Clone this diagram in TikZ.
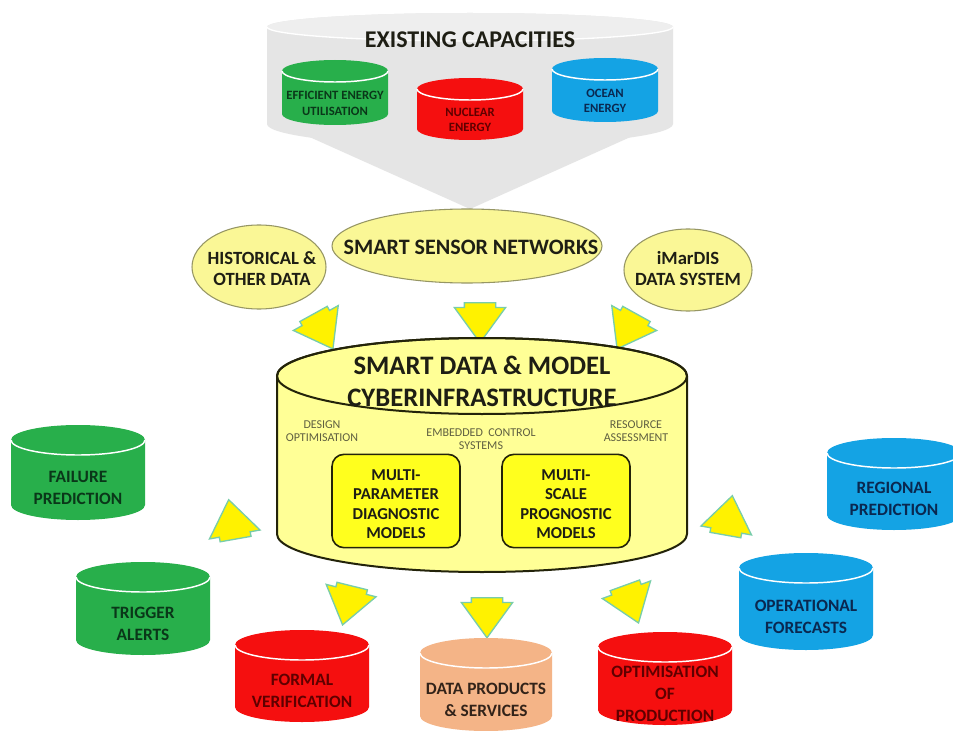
\documentclass[tikz,border=0pt]{standalone}
\usepackage{fontspec}
\setmainfont{Carlito}
\usetikzlibrary{shapes.arrows,shapes.geometric}
\definecolor{cgreen}{RGB}{40,175,75}
\definecolor{cred}{RGB}{245,15,15}
\definecolor{cblue}{RGB}{20,163,228}
\definecolor{cpeach}{RGB}{244,180,135}
\definecolor{tgreen}{RGB}{10,55,25}
\definecolor{tred}{RGB}{95,0,0}
\definecolor{tblue}{RGB}{10,40,80}
\definecolor{tpeach}{RGB}{50,35,25}
\definecolor{paley}{RGB}{255,255,150}
\definecolor{elly}{RGB}{250,247,150}
\definecolor{ellyedge}{RGB}{150,150,100}
\definecolor{brighty}{RGB}{255,255,30}
\definecolor{arrowedge}{RGB}{120,205,170}
\definecolor{funnel}{RGB}{229,229,229}
\definecolor{funneltop}{RGB}{238,238,238}
\definecolor{cyledge}{RGB}{35,35,10}
\definecolor{smallgray}{RGB}{95,95,65}
\definecolor{darktxt}{RGB}{30,30,20}

\newcommand\dbcyl[9]{%
  \fill[#7] ({#2-#4},{-(#3+#6)}) -- ({#2-#4},{-(#3+#5-#6)})
     arc[start angle=180, end angle=360, x radius=#4, y radius=#6]
     -- ({#2+#4},{-(#3+#6)})
     arc[start angle=0, end angle=180, x radius=#4, y radius=#6] -- cycle;
  \draw[white, line width=1.1pt] ({#2-#4},{-(#3+#6)})
     arc[start angle=180, end angle=360, x radius=#4, y radius=#6];
  \node[#8] (#1) at (#2,{-(#3+#6+#5/2)}) {#9};
}

\tikzset{
  every node/.style={inner sep=0pt, outer sep=0pt},
  yarrow/.style={single arrow, draw=arrowedge, fill=yellow, line width=1pt,
    minimum height=30pt, inner xsep=0pt, inner ysep=11.25pt,
    single arrow head extend=7.5pt, single arrow tip angle=72},
  yell/.style={ellipse, fill=elly, draw=ellyedge, line width=0.8pt},
  elltext/.style={font=\bfseries\fontsize{14}{15.75}\selectfont, align=center, text=darktxt},
  bigcyl/.style={font=\bfseries\fontsize{13}{16.5}\selectfont, align=center},
  smallcyl/.style={font=\bfseries\fontsize{9.5}{11.5}\selectfont, align=center},
  innerbox/.style={rounded corners=9pt, fill=brighty, draw=cyledge, line width=1.2pt,
    minimum width=96pt, minimum height=70pt},
  innertext/.style={font=\bfseries\fontsize{12.5}{14.6}\selectfont, align=center, text=darktxt},
  graytext/.style={font=\fontsize{9}{9.8}\selectfont, align=center, text=smallgray},
}

\begin{document}
\begin{tikzpicture}[x=0.75pt, y=0.75pt]
\useasboundingbox (0,0) rectangle (953,-731);
\fill[white] (0,0) rectangle (953,-731);

% --- existing capacities funnel ---
\fill[funnel] (285,-126) -- (470,-209) -- (655,-126) -- cycle;
\fill[funnel] (267,-27) -- (267,-124)
   arc[start angle=180, end angle=360, x radius=203, y radius=22]
   -- (673,-27) arc[start angle=0, end angle=180, x radius=203, y radius=14] -- cycle;
\fill[funneltop] (470,-27) ellipse [x radius=203, y radius=14];
\draw[white, line width=1pt] (267,-27) arc[start angle=180, end angle=360, x radius=203, y radius=14];
\node[font=\bfseries\fontsize{18}{20}\selectfont, text=darktxt] (existing) at (470,-40) {EXISTING CAPACITIES};

\dbcyl{effic}{335}{60}{53}{65}{11}{cgreen}{smallcyl,text=tgreen}{EFFICIENT ENERGY\\UTILISATION}
\dbcyl{nuclear}{470}{78}{53}{62}{11}{cred}{smallcyl,text=tred}{NUCLEAR\\ENERGY}
\dbcyl{ocean}{605}{58}{53}{64}{11}{cblue}{smallcyl,text=tblue}{OCEAN\\ENERGY}

% --- data sources ---
\node[yell, minimum width=100.5pt, minimum height=63pt] (hist) at (259,-267) {};
\node[elltext] (histtxt) at (262,-269) {HISTORICAL \&\\OTHER DATA};
\node[yell, minimum width=202.5pt, minimum height=55.5pt] (sensor) at (467,-246) {};
\node[elltext, font=\bfseries\fontsize{16.5}{18}\selectfont] (sensortxt) at (471,-247) {SMART SENSOR NETWORKS};
\node[yell, minimum width=96pt, minimum height=61.5pt] (imardis) at (688,-270) {};
\node[elltext] (imardistxt) at (688,-269) {iMarDIS\\DATA SYSTEM};

% --- input arrows ---
\node[yarrow, rotate=-61] (atl) at (318,-322) {};
\node[yarrow, rotate=-90] (atc) at (480,-312) {};
\node[yarrow, rotate=-119] (atr) at (632,-322) {};

% --- main cylinder ---
\filldraw[fill=paley, draw=cyledge, line width=1.5pt] (277,-376) -- (277,-534)
   arc[start angle=180, end angle=360, x radius=205, y radius=38]
   -- (687,-376) arc[start angle=0, end angle=180, x radius=205, y radius=38] -- cycle;
\draw[cyledge, line width=1.5pt] (482,-376) ellipse [x radius=205, y radius=38];
\node[font=\bfseries\fontsize{20}{24}\selectfont, align=center, text=darktxt] (maintitle) at (482,-381)
   {SMART DATA \& MODEL\\CYBERINFRASTRUCTURE};
\node[graytext] (design) at (322,-431) {DESIGN\\OPTIMISATION};
\node[graytext] (embedded) at (481,-439) {EMBEDDED\ \ CONTROL\\SYSTEMS};
\node[graytext] (resource) at (636,-431) {RESOURCE\\ASSESSMENT};
\node[innerbox] (diag) at (396,-501) {};
\node[innertext] (diagtxt) at (396,-504) {MULTI-\\PARAMETER\\DIAGNOSTIC\\MODELS};
\node[innerbox] (prog) at (566,-501) {};
\node[innertext] (progtxt) at (566,-504) {MULTI-\\SCALE\\PROGNOSTIC\\MODELS};

% --- output arrows ---
\node[yarrow, rotate=100] (asl) at (234,-530) {};
\node[yarrow, rotate=80] (asr) at (727,-526) {};
\node[yarrow, rotate=-104] (abl) at (350,-595) {};
\node[yarrow, rotate=-90] (abc) at (487,-607) {};
\node[yarrow, rotate=-70] (abr) at (628,-594) {};

% --- outputs ---
\dbcyl{failure}{78}{425}{67}{95}{15}{cgreen}{bigcyl,text=tgreen}{FAILURE\\PREDICTION}
\dbcyl{trigger}{143}{562}{67}{93}{15}{cgreen}{bigcyl,text=tgreen}{TRIGGER\\ALERTS}
\dbcyl{formal}{302}{630}{67}{92}{15}{cred}{bigcyl,text=tred}{FORMAL\\VERIFICATION}
\dbcyl{dataprod}{486}{638}{66}{93}{15}{cpeach}{bigcyl,text=tpeach}{DATA PRODUCTS\\\& SERVICES}
\dbcyl{optim}{665}{632}{67}{93}{15}{cred}{bigcyl,text=tred}{OPTIMISATION\\OF\\PRODUCTION}
\dbcyl{regional}{894}{438}{67}{92}{15}{cblue}{bigcyl,text=tblue}{REGIONAL\\PREDICTION}
\dbcyl{operational}{806}{553}{67}{97}{15}{cblue}{bigcyl,text=tblue}{OPERATIONAL\\FORECASTS}
\end{tikzpicture}
\end{document}
